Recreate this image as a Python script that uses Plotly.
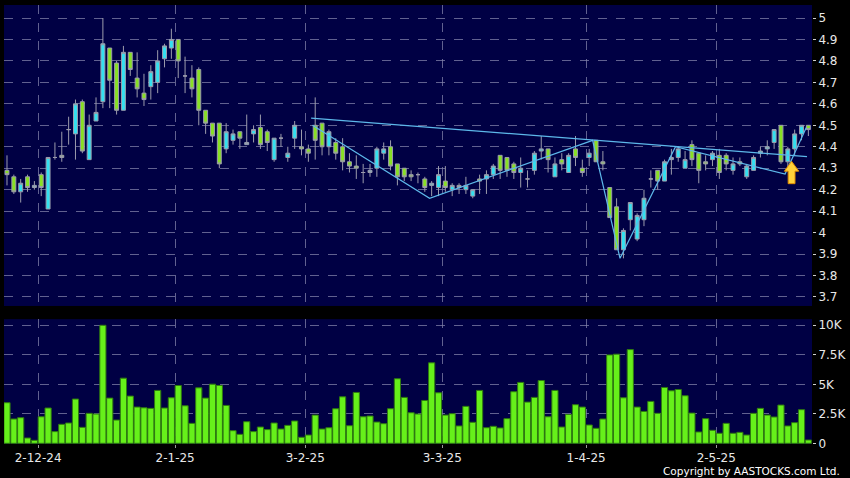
import numpy as np
import pandas as pd
import plotly.graph_objects as go

# ---------------- data ----------------
hk_holidays = ["2024-12-25", "2024-12-26", "2025-01-01", "2025-01-29", "2025-01-30",
               "2025-01-31", "2025-04-04", "2025-04-18", "2025-04-21", "2025-05-01", "2025-05-05"]
dates = pd.bdate_range("2024-11-25", "2025-05-22", freq="C", holidays=hk_holidays)

opens = [4.29, 4.26, 4.19, 4.26, 4.21, 4.27, 4.11, 4.35, 4.36, 4.48,
         4.46, 4.61, 4.34, 4.52, 4.61, 4.86, 4.79, 4.57, 4.84, 4.72,
         4.65, 4.68, 4.70, 4.81, 4.86, 4.90, 4.73, 4.72, 4.76, 4.57,
         4.51, 4.51, 4.39, 4.43, 4.47, 4.41, 4.46, 4.49, 4.47, 4.34,
         4.44, 4.35, 4.44, 4.40, 4.39, 4.50, 4.51, 4.40, 4.42, 4.40,
         4.33, 4.31, 4.28, 4.28, 4.30, 4.37, 4.40, 4.32, 4.30, 4.27,
         4.27, 4.25, 4.22, 4.21, 4.24, 4.20, 4.22, 4.20, 4.17, 4.25,
         4.25, 4.27, 4.36, 4.35, 4.32, 4.28, 4.25, 4.29, 4.38, 4.39,
         4.26, 4.34, 4.28, 4.39, 4.30, 4.35, 4.43, 4.33, 4.21, 4.12,
         3.92, 4.06, 3.97, 4.06, 4.25, 4.29, 4.24, 4.34, 4.35, 4.30,
         4.41, 4.37, 4.33, 4.34, 4.36, 4.36, 4.29, 4.33, 4.26, 4.29,
         4.37, 4.39, 4.42, 4.50, 4.33, 4.39, 4.46, 4.50]
highs = [4.36, 4.27, 4.25, 4.27, 4.24, 4.28, 4.35, 4.42, 4.47, 4.54,
         4.62, 4.62, 4.55, 4.63, 5.00, 4.86, 4.80, 4.87, 4.84, 4.84,
         4.74, 4.78, 4.85, 4.88, 4.95, 4.90, 4.82, 4.78, 4.77, 4.57,
         4.51, 4.51, 4.51, 4.48, 4.47, 4.55, 4.50, 4.55, 4.48, 4.44,
         4.46, 4.40, 4.52, 4.48, 4.41, 4.63, 4.51, 4.48, 4.44, 4.44,
         4.37, 4.36, 4.32, 4.32, 4.40, 4.42, 4.43, 4.32, 4.30, 4.29,
         4.28, 4.26, 4.24, 4.31, 4.31, 4.23, 4.23, 4.26, 4.20, 4.27,
         4.29, 4.32, 4.36, 4.35, 4.33, 4.35, 4.29, 4.38, 4.45, 4.39,
         4.35, 4.37, 4.37, 4.45, 4.34, 4.39, 4.43, 4.38, 4.21, 4.16,
         4.02, 4.14, 4.09, 4.20, 4.29, 4.29, 4.34, 4.39, 4.40, 4.38,
         4.43, 4.37, 4.36, 4.38, 4.39, 4.37, 4.35, 4.35, 4.32, 4.36,
         4.40, 4.43, 4.48, 4.50, 4.40, 4.48, 4.50, 4.50]
lows = [4.22, 4.18, 4.14, 4.19, 4.20, 4.17, 4.11, 4.34, 4.33, 4.41,
        4.34, 4.37, 4.34, 4.52, 4.58, 4.58, 4.55, 4.57, 4.73, 4.63,
        4.59, 4.62, 4.65, 4.77, 4.81, 4.72, 4.65, 4.63, 4.50, 4.46,
        4.42, 4.30, 4.37, 4.41, 4.39, 4.41, 4.42, 4.39, 4.38, 4.33,
        4.40, 4.33, 4.39, 4.36, 4.33, 4.34, 4.36, 4.36, 4.34, 4.29,
        4.28, 4.25, 4.23, 4.26, 4.26, 4.34, 4.29, 4.22, 4.24, 4.24,
        4.23, 4.19, 4.17, 4.17, 4.19, 4.17, 4.18, 4.18, 4.16, 4.18,
        4.18, 4.25, 4.25, 4.26, 4.25, 4.21, 4.21, 4.27, 4.34, 4.28,
        4.26, 4.29, 4.28, 4.31, 4.26, 4.31, 4.33, 4.29, 4.07, 3.92,
        3.88, 4.01, 3.96, 4.03, 4.21, 4.20, 4.24, 4.27, 4.33, 4.30,
        4.31, 4.23, 4.29, 4.31, 4.25, 4.29, 4.27, 4.31, 4.25, 4.29,
        4.35, 4.36, 4.39, 4.32, 4.29, 4.36, 4.43, 4.45]
closes = [4.27, 4.19, 4.23, 4.21, 4.22, 4.21, 4.35, 4.35, 4.35, 4.48,
          4.60, 4.38, 4.50, 4.56, 4.88, 4.71, 4.57, 4.84, 4.76, 4.67,
          4.62, 4.75, 4.80, 4.87, 4.90, 4.80, 4.73, 4.67, 4.57, 4.51,
          4.45, 4.32, 4.47, 4.46, 4.44, 4.42, 4.48, 4.41, 4.42, 4.44,
          4.44, 4.37, 4.50, 4.39, 4.37, 4.43, 4.40, 4.47, 4.37, 4.33,
          4.31, 4.30, 4.28, 4.29, 4.39, 4.39, 4.31, 4.26, 4.26, 4.26,
          4.27, 4.21, 4.23, 4.27, 4.21, 4.22, 4.21, 4.22, 4.20, 4.24,
          4.27, 4.31, 4.29, 4.29, 4.28, 4.30, 4.25, 4.37, 4.39, 4.34,
          4.32, 4.32, 4.36, 4.35, 4.28, 4.37, 4.33, 4.32, 4.07, 3.92,
          4.01, 4.14, 4.08, 4.16, 4.25, 4.24, 4.33, 4.35, 4.39, 4.34,
          4.34, 4.29, 4.32, 4.37, 4.28, 4.32, 4.32, 4.32, 4.31, 4.35,
          4.38, 4.40, 4.48, 4.33, 4.39, 4.46, 4.50, 4.48]
volumes = [3440, 2060, 2170, 450, 250, 2250, 2990, 990, 1610, 1720,
           3750, 1350, 2540, 2480, 10000, 3830, 1970, 5520, 4000, 3070,
           3010, 2960, 4480, 2990, 3860, 4900, 3180, 1690, 4700, 3830,
           5010, 4900, 3210, 1070, 760, 1830, 990, 1380, 1160, 1720,
           1210, 1520, 1890, 510, 700, 2390, 1210, 1320, 2930, 3940,
           1490, 4310, 2250, 2310, 1800, 1660, 2930, 5470, 3890, 2590,
           2480, 3630, 6820, 4280, 2390, 2510, 1470, 3130, 1780, 4480,
           1320, 1440, 1300, 2090, 4370, 5160, 3490, 3890, 5320, 2250,
           4480, 1380, 2450, 3270, 3070, 1550, 1270, 2060, 7490, 7550,
           3860, 7940, 3070, 2700, 3550, 2540, 4730, 4450, 4560, 4030,
           2560, 960, 2090, 1100, 850, 1690, 850, 930, 700, 2540,
           2960, 2390, 2230, 3240, 1470, 1750, 2850, 280]

tick_dates = ["2024-12-02", "2025-01-02", "2025-02-03", "2025-03-03", "2025-04-01", "2025-05-02"]
tick_labels = ["2-12-24", "2-1-25", "3-2-25", "3-3-25", "1-4-25", "2-5-25"]

price_ticks = [3.7, 3.8, 3.9, 4.0, 4.1, 4.2, 4.3, 4.4, 4.5, 4.6, 4.7, 4.8, 4.9, 5.0]
vol_ticks = [0, 2500, 5000, 7500, 10000]
vol_tick_labels = ["0", "2.5K", "5K", "7.5K", "10K"]

# drawn trend lines (bar index, price)
neck_x = [44.4, 116.8]
neck_y = [4.533, 4.354]
zig_x = [44.6, 61.7, 85.5, 89.5, 97.6, 113.6, 116.7]
zig_y = [4.50, 4.16, 4.43, 3.88, 4.40, 4.273, 4.49]

# marker arrow (bar index, tip price, base price)
arrow_idx = 114.55
arrow_tip = 4.332
arrow_base = 4.228

# ---------------- figure ----------------
n = len(dates)
assert n == len(opens) == len(volumes)
x = np.arange(n)
date_pos = {d.strftime("%Y-%m-%d"): i for i, d in enumerate(dates)}
tickvals = [date_pos[d] - 0.45 for d in tick_dates]

BG = "#000044"
GRID = "rgba(130,130,170,0.75)"
WICK = "#9c9cac"
FONT = "DejaVu Sans"

fig = go.Figure()
fig.add_trace(go.Candlestick(
    x=x, open=opens, high=highs, low=lows, close=closes,
    increasing=dict(fillcolor="#33E0F0", line=dict(color=WICK, width=1)),
    decreasing=dict(fillcolor="#88E024", line=dict(color=WICK, width=1)),
    whiskerwidth=0, xaxis="x", yaxis="y", showlegend=False, hoverinfo="skip"))

fig.add_trace(go.Scatter(x=neck_x, y=neck_y, mode="lines",
                         line=dict(color="#5DB8EA", width=1.2), xaxis="x", yaxis="y",
                         showlegend=False, hoverinfo="skip"))
fig.add_trace(go.Scatter(x=zig_x, y=zig_y, mode="lines",
                         line=dict(color="#5DB8EA", width=1.2), xaxis="x", yaxis="y",
                         showlegend=False, hoverinfo="skip"))

fig.add_trace(go.Bar(x=x, y=volumes, marker=dict(color="#66F01A", line=dict(color="#2F7A10", width=1)),
                     xaxis="x2", yaxis="y2", showlegend=False, hoverinfo="skip"))

# arrow polygon
hw, sw = 1.05, 0.5
neck = arrow_tip - (arrow_tip - arrow_base) * 0.44
path = (f"M {arrow_idx},{arrow_tip} L {arrow_idx + hw},{neck} L {arrow_idx + sw},{neck} "
        f"L {arrow_idx + sw},{arrow_base} L {arrow_idx - sw},{arrow_base} L {arrow_idx - sw},{neck} "
        f"L {arrow_idx - hw},{neck} Z")
fig.add_shape(type="path", path=path, xref="x", yref="y",
              fillcolor="#FFD23A", line=dict(color="#E08A00", width=1), layer="above")

xr = [-0.436, 117.53]
common_x = dict(range=xr, showgrid=True, gridcolor=GRID, griddash="dash", gridwidth=1,
                zeroline=False, showline=False, tickvals=tickvals, fixedrange=True)

fig.update_layout(
    width=850, height=478,
    paper_bgcolor="#000000", plot_bgcolor=BG,
    margin=dict(l=4, r=35, t=5, b=34),
    bargap=0.1, boxgap=0.18,
    xaxis=dict(**common_x, domain=[0, 1], anchor="y", showticklabels=False, ticks="",
               rangeslider=dict(visible=False)),
    xaxis2=dict(**common_x, domain=[0, 1], anchor="y2", matches="x", ticktext=tick_labels,
                ticks="outside", ticklen=3, tickcolor="#9a9a9a",
                tickfont=dict(family=FONT, size=12, color="#e8e8e8")),
    yaxis=dict(domain=[0.3144, 1], range=[3.658, 5.0606], side="right",
               tickvals=price_ticks, ticktext=[f"{v:g}" for v in price_ticks],
               ticks="outside", ticklen=3, tickcolor="#cfcfcf", fixedrange=True,
               showgrid=True, gridcolor=GRID, griddash="dash", zeroline=False,
               tickfont=dict(family=FONT, size=12, color="#e8e8e8")),
    yaxis2=dict(domain=[0, 0.2843], range=[-59, 10517], side="right",
                tickvals=vol_ticks, ticktext=vol_tick_labels,
                ticks="outside", ticklen=3, tickcolor="#cfcfcf", fixedrange=True,
                showgrid=True, gridcolor=GRID, griddash="dash", zeroline=False,
                tickfont=dict(family=FONT, size=12, color="#e8e8e8")),
    annotations=[dict(text="Copyright by AASTOCKS.com Ltd.", xref="paper", yref="paper",
                      x=1.0375, y=-0.0615, xanchor="right", yanchor="middle", showarrow=False,
                      font=dict(family=FONT, size=10.5, color="#ffffff"))],
)

fig.write_html("out.html", config={"displayModeBar": False, "staticPlot": True},
               post_script="document.body.style.margin='0';document.body.style.background='#000';")
